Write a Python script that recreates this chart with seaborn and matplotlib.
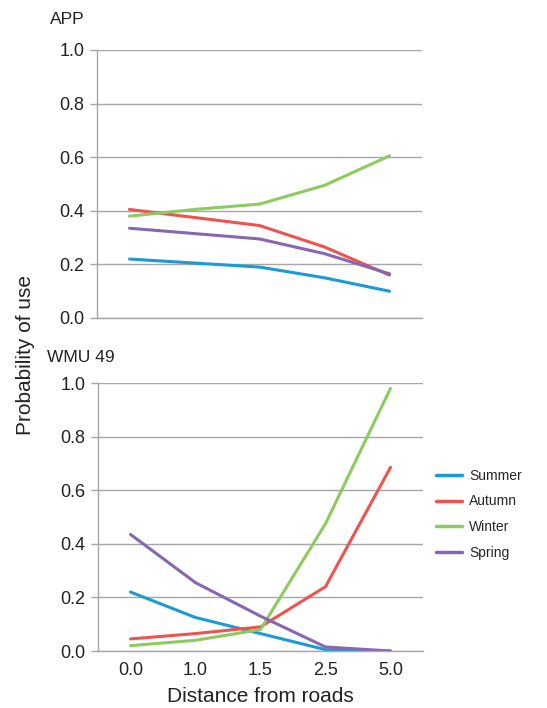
import pandas as pd
import matplotlib
matplotlib.use("Agg")
import matplotlib.pyplot as plt
import seaborn as sns

# distance classes (categorical x axis)
distance = ["0.0", "1.0", "1.5", "2.5", "5.0"]
seasons = ["Summer", "Autumn", "Winter", "Spring"]

# APP panel
app_summer = [0.22, 0.205, 0.19, 0.15, 0.10]
app_autumn = [0.405, 0.375, 0.345, 0.265, 0.16]
app_winter = [0.38, 0.405, 0.425, 0.495, 0.605]
app_spring = [0.335, 0.315, 0.295, 0.24, 0.165]

# WMU 49 panel
wmu_summer = [0.22, 0.125, 0.065, 0.005, 0.0]
wmu_autumn = [0.045, 0.065, 0.09, 0.24, 0.685]
wmu_winter = [0.02, 0.04, 0.08, 0.475, 0.98]
wmu_spring = [0.435, 0.255, 0.13, 0.015, 0.0]

colors = {"Summer": "#1B9AD6", "Autumn": "#EE5350", "Winter": "#8DCB5E", "Spring": "#8866B0"}


def to_long(series):
    rows = []
    for season, vals in zip(seasons, series):
        for i, v in enumerate(vals):
            rows.append({"pos": i, "distance": distance[i], "season": season, "p": v})
    return pd.DataFrame(rows)


df_app = to_long([app_summer, app_autumn, app_winter, app_spring])
df_wmu = to_long([wmu_summer, wmu_autumn, wmu_winter, wmu_spring])

sns.set_style("white")
plt.rcParams["font.family"] = ["Liberation Sans", "DejaVu Sans"]

fig = plt.figure(figsize=(5.47, 7.08), dpi=100)
ax1 = fig.add_axes([97 / 547, 1 - 318 / 708, 325 / 547, 268 / 708])
ax2 = fig.add_axes([98 / 547, 1 - 651 / 708, 325 / 547, 268 / 708])

grey = "#A6A6A6"
for ax, df in [(ax1, df_app), (ax2, df_wmu)]:
    sns.lineplot(data=df, x="pos", y="p", hue="season", hue_order=seasons,
                 palette=colors, linewidth=2.2, ax=ax, legend=(ax is ax2))
    ax.set_xlim(-0.5, 4.5)
    ax.set_ylim(0, 1.0)
    ax.set_yticks([0, 0.2, 0.4, 0.6, 0.8, 1.0])
    ax.set_yticklabels(["0.0", "0.2", "0.4", "0.6", "0.8", "1.0"])
    ax.set_xticks(range(5))
    ax.set_xticks([-0.5, 0.5, 1.5, 2.5, 3.5, 4.5], minor=True)
    ax.tick_params(axis="x", which="major", length=0, labelsize=13, pad=8, colors="#222222")
    ax.tick_params(axis="x", which="minor", length=5, color=grey, width=1, direction="out")
    ax.tick_params(axis="y", length=5, width=1, labelsize=13, pad=4,
                   colors="#222222", left=True)
    ax.tick_params(axis="y", which="major", color=grey)
    ax.grid(axis="y", color=grey, linewidth=1)
    ax.set_axisbelow(True)
    for s in ["top", "right"]:
        ax.spines[s].set_visible(False)
    for s in ["left", "bottom"]:
        ax.spines[s].set_color(grey)
        ax.spines[s].set_linewidth(1)
    ax.set_xlabel("")
    ax.set_ylabel("")

ax1.set_xticklabels([])
ax2.set_xticklabels(distance)
ax2.set_xlabel("Distance from roads", fontsize=15, color="#222222", labelpad=6)

leg = ax2.legend(loc="center left", bbox_to_anchor=(1.0, 0.51), frameon=False,
                 fontsize=10, handlelength=1.9, labelspacing=0.85, handletextpad=0.5)
for line in leg.get_lines():
    line.set_linewidth(2.5)

fig.text(50 / 547, 1 - 20 / 708, "APP", fontsize=12.5, color="#222222", va="center")
fig.text(47 / 547, 1 - 357 / 708, "WMU 49", fontsize=12.5, color="#222222", va="center")
fig.text(26 / 547, 1 - 355 / 708, "Probability of use", fontsize=15, color="#222222",
         rotation=90, va="center", ha="center")

fig.savefig("out.png", dpi=100)
